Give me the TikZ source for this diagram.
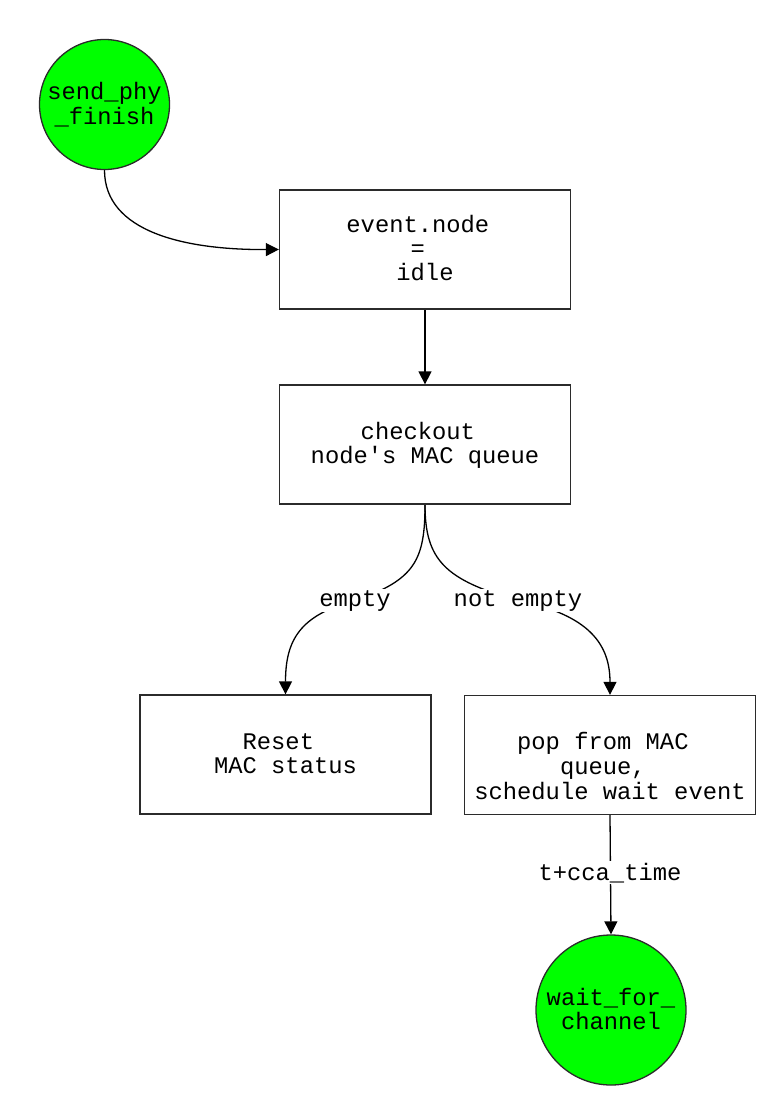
\documentclass[tikz,border=0pt]{standalone}
\usepackage{fontspec}
\setmonofont{Liberation Mono}
\usetikzlibrary{arrows.meta,backgrounds}
\definecolor{boxc}{HTML}{2B2B2B}
\definecolor{statec}{HTML}{00FF00}
\newcommand\trsp{\hbox to 0.6em{}}
\newcommand\lnst{\rule[-4.7pt]{0pt}{24pt}}
\begin{document}
\begin{tikzpicture}[x=1pt,y=-1pt,
  every node/.style={font={\ttfamily\fontsize{23.8}{24}\selectfont}, text=black},
  box/.style={draw=boxc, line width=1.3pt, minimum width=291pt, minimum height=119pt, align=center, inner sep=0pt},
  state/.style={circle, draw=boxc, fill=statec, line width=1.3pt, align=center, inner sep=0pt},
  edge/.style={draw=black, line width=1.3pt, -{Triangle[length=13pt,width=13pt]}},
  elabel/.style={fill=white, inner sep=1.5pt}]
\useasboundingbox (0,0) rectangle (775,1105);

\node[state, minimum size=130pt] (send) at (104.5,104.5) {\lnst send\_phy\\\lnst\_finish};
\node[box] (ev) at (425,249.5) {\lnst event.node\trsp\\\lnst =\trsp\\\lnst idle};
\node[box] (chk) at (425,444.5) {\lnst checkout\trsp\\\lnst node's MAC queue};
\node[box] (rst) at (285.5,754.5) {\lnst Reset\trsp\\\lnst MAC status};
\node[box] (pop) at (610,755) {\lnst\\\lnst pop from MAC\trsp\\\lnst queue,\trsp\\\lnst schedule wait event};
\node[state, minimum size=150pt] (wfc) at (611,1010) {\lnst wait\_for\_\\\lnst channel};

\node[elabel, anchor=base] (le) at (355,606) {empty};
\node[elabel, anchor=base] (lne) at (518,606) {not empty};
\node[elabel, anchor=base] (lt) at (610,880) {t+cca\_time};

\begin{scope}[on background layer]
\fill[white] (0,0) rectangle (775,1105);
\draw[edge] (send.south) .. controls (104.5,232) and (185,250) .. (ev.west);
\draw[edge] (ev.south) -- (chk.north);
\draw[edge] (chk.south) .. controls (425,560) and (415,580) .. (le.center) .. controls (300,615) and (285.5,640) .. (rst.north);
\draw[edge] (chk.south) .. controls (425,560) and (445,580) .. (lne.center) .. controls (590,615) and (610,645) .. (pop.north);
\draw[edge] (pop.south) -- (wfc.north);
\end{scope}
\end{tikzpicture}
\end{document}
